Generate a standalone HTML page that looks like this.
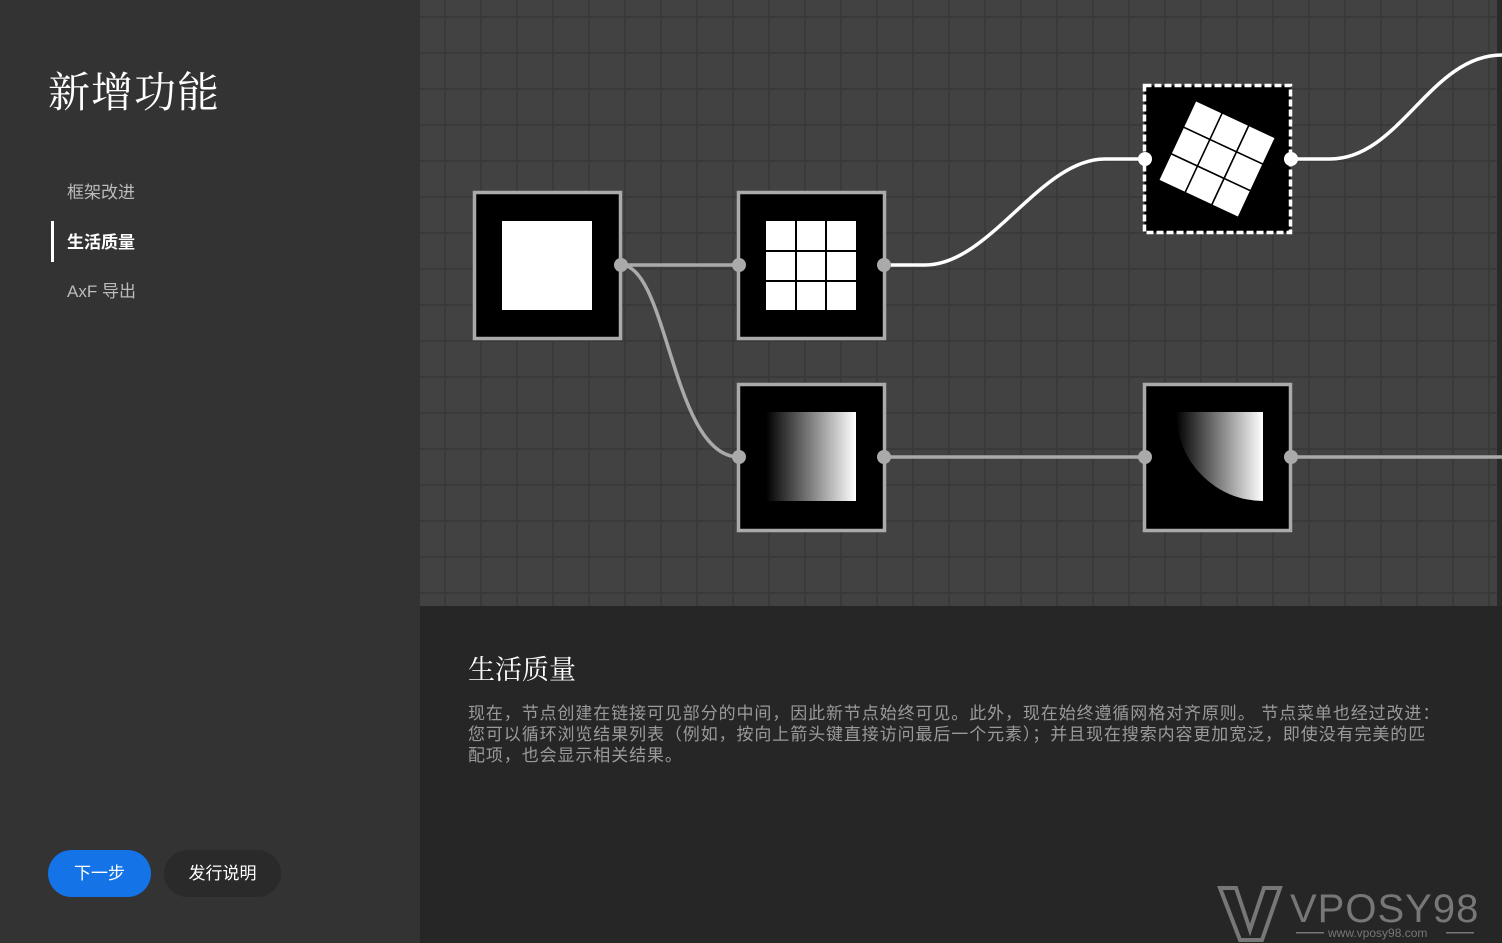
<!DOCTYPE html>
<html><head><meta charset="utf-8"><style>
body{margin:0;width:1502px;height:943px;background:#262626;overflow:hidden;position:relative;font-family:"Liberation Sans","Noto Sans CJK SC",sans-serif}
.left{position:absolute;left:0;top:0;width:420px;height:943px;background:#333}
.title{position:absolute;left:48px;top:60px;font-family:"Liberation Serif","Noto Serif CJK SC",serif;font-size:42px;color:#fff;letter-spacing:1px}
.mi{position:absolute;left:67px;font-size:17px;color:#bbb}
.bar{position:absolute;left:51px;top:221px;width:3px;height:41px;background:#fff}
.btn{position:absolute;top:850px;height:47px;border-radius:24px;line-height:47px;text-align:center;font-size:17px;color:#fff}
.canvas{position:absolute;left:420px;top:0;width:1082px;height:606px;background-color:#424242;
background-image:linear-gradient(to right,#3a3a3a 2px,transparent 2px),linear-gradient(to bottom,#3a3a3a 2px,transparent 2px);
background-size:36px 36px;background-position:24px 16px}
h2{position:absolute;left:468px;top:648px;margin:0;font-family:"Liberation Serif","Noto Serif CJK SC",serif;font-weight:normal;font-size:27px;color:#fff}
.p{position:absolute;left:468px;top:703px;font-size:17px;line-height:21px;color:#9a9a9a;white-space:nowrap;letter-spacing:0.9px}
</style></head><body>
<div class="left">
<div class="title">新增功能</div>
<div class="mi" style="top:178px">框架改进</div>
<div class="bar"></div>
<div class="mi" style="top:228px;color:#fff;font-weight:bold">生活质量</div>
<div class="mi" style="top:277px">AxF 导出</div>
<div class="btn" style="left:48px;width:103px;background:#1473e6">下一步</div>
<div class="btn" style="left:164px;width:117px;background:#2a2a2a">发行说明</div>
</div>
<div class="canvas"></div>
<svg style="position:absolute;left:0;top:0" width="1502" height="943">
<defs>
<linearGradient id="g" x1="0" x2="1"><stop offset="0" stop-color="#000"/><stop offset="1" stop-color="#fff"/></linearGradient>
</defs>
<rect x="1497" y="0" width="5" height="606" fill="#2a2a2a"/>
<g fill="none" stroke-width="3.5">
<path d="M621 265 L739 265" stroke="#aaa"/>
<path d="M621 265 C668 265 672 457 739 457" stroke="#aaa"/>
<path d="M884 457 L1145 457 M1291 457 L1502 457" stroke="#aaa"/>
<path d="M884 265 L925 265 C990 265 1040 159 1105 159 L1145 159" stroke="#fff"/>
<path d="M1291 159 L1330 159 C1400 159 1430 55 1502 55" stroke="#fff"/>
</g>
<g stroke="#aaa" stroke-width="3.5">
<rect x="474.5" y="192.5" width="146" height="146" fill="#000"/>
<rect x="738.5" y="192.5" width="146" height="146" fill="#000"/>
<rect x="738.5" y="384.5" width="146" height="146" fill="#000"/>
<rect x="1144.5" y="384.5" width="146" height="146" fill="#000"/>
</g>
<rect x="1144.5" y="85.5" width="146" height="147" fill="#000" stroke="#fff" stroke-width="3.5" stroke-dasharray="7 3"/>
<rect x="502" y="221" width="90" height="89" fill="#fff"/>
<g fill="#fff">
<rect x="766" y="221" width="29" height="29"/><rect x="797" y="221" width="28" height="29"/><rect x="827" y="221" width="29" height="29"/>
<rect x="766" y="252" width="29" height="28"/><rect x="797" y="252" width="28" height="28"/><rect x="827" y="252" width="29" height="28"/>
<rect x="766" y="282" width="29" height="28"/><rect x="797" y="282" width="28" height="28"/><rect x="827" y="282" width="29" height="28"/>
</g>
<g transform="translate(1217 159) rotate(25)" fill="#fff" stroke="#000" stroke-width="1.5">
<rect x="-44" y="-44" width="29.3" height="29.3"/><rect x="-14.7" y="-44" width="29.3" height="29.3"/><rect x="14.7" y="-44" width="29.3" height="29.3"/>
<rect x="-44" y="-14.7" width="29.3" height="29.3"/><rect x="-14.7" y="-14.7" width="29.3" height="29.3"/><rect x="14.7" y="-14.7" width="29.3" height="29.3"/>
<rect x="-44" y="14.7" width="29.3" height="29.3"/><rect x="-14.7" y="14.7" width="29.3" height="29.3"/><rect x="14.7" y="14.7" width="29.3" height="29.3"/>
</g>
<rect x="766" y="412" width="90" height="89" fill="url(#g)"/>
<path d="M1176 412 L1263 412 L1263 501 A87 89 0 0 1 1176 412 Z" fill="url(#g)"/>
<g fill="#aaa">
<circle cx="621" cy="265" r="7"/><circle cx="739" cy="265" r="7"/><circle cx="884" cy="265" r="7"/>
<circle cx="739" cy="457" r="7"/><circle cx="884" cy="457" r="7"/><circle cx="1145" cy="457" r="7"/><circle cx="1291" cy="457" r="7"/>
</g>
<g fill="#fff"><circle cx="1145" cy="159" r="7"/><circle cx="1291" cy="159" r="7"/></g>
<g fill="#777" font-family="Liberation Sans,sans-serif">
<path d="M1220 888 L1236 888 L1250 930 L1264 888 L1280 888 L1262 940 L1240 940 Z" fill="none" stroke="#777" stroke-width="4"/>
<text x="1290" y="922" font-size="40" letter-spacing="1">VPOSY98</text>
<text x="1328" y="937" font-size="12">www.vposy98.com</text>
<rect x="1296" y="932" width="28" height="1.5"/><rect x="1446" y="932" width="28" height="1.5"/>
</g>
</svg>
<h2>生活质量</h2>
<div class="p">现在，节点创建在链接可见部分的中间，因此新节点始终可见。此外，现在始终遵循网格对齐原则。 节点菜单也经过改进：<br>您可以循环浏览结果列表（例如，按向上箭头键直接访问最后一个元素）；并且现在搜索内容更加宽泛，即使没有完美的匹<br>配项，也会显示相关结果。</div>
</body></html>
